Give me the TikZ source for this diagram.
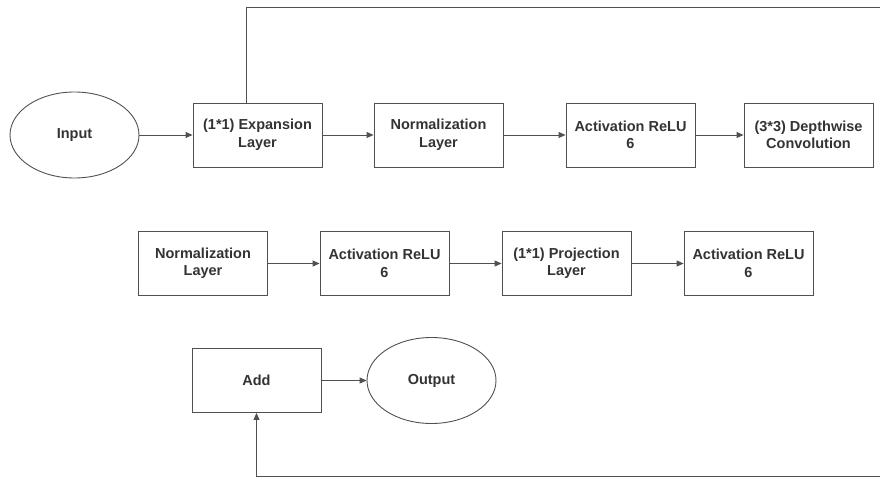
\documentclass[tikz,border=0pt]{standalone}
\usepackage{fontspec}
\setmainfont{Liberation Sans}
\usetikzlibrary{shapes.geometric,arrows.meta}
\definecolor{linegray}{HTML}{505050}
\tikzset{
  x=1pt, y=1pt,
  layer/.style={draw=linegray, line width=0.9pt, rectangle, minimum width=129pt, minimum height=64pt,
    align=center, font=\bfseries\fontsize{14.5}{17.5}\selectfont, text=black!80, inner sep=2pt},
  term/.style={draw=linegray, line width=0.9pt, ellipse, minimum width=129pt, minimum height=86pt,
    align=center, font=\bfseries\fontsize{14.5}{17.5}\selectfont, text=black!80, inner sep=0pt},
  flow/.style={draw=linegray, line width=0.9pt, -{Triangle[length=7pt,width=6pt]}},
  wire/.style={draw=linegray, line width=0.9pt}
}
\begin{document}
\begin{tikzpicture}
\useasboundingbox (0,0) rectangle (880,477);
% first row (y = 477 - 135)
\node[term]  (in)   at (74.5,342) {Input};
\node[layer] (exp)  at (257.5,342) {(1*1) Expansion\\Layer};
\node[layer] (nrm1) at (438.5,342) {Normalization\\Layer};
\node[layer] (act1) at (630.5,342) {Activation ReLU\\6};
\node[layer] (dw)   at (808.5,342) {(3*3) Depthwise\\Convolution};
% second row
\node[layer] (nrm2) at (203,213.5) {Normalization\\Layer};
\node[layer] (act2) at (384.5,213.5) {Activation ReLU\\6};
\node[layer] (proj) at (566.5,213.5) {(1*1) Projection\\Layer};
\node[layer] (act3) at (748.5,213.5) {Activation ReLU\\6};
% third row
\node[layer] (add)  at (256.5,96.5) {Add};
\node[term]  (out)  at (431.5,96.5) {Output};
% arrows between blocks
\draw[flow] (in) -- (exp);
\draw[flow] (exp) -- (nrm1);
\draw[flow] (nrm1) -- (act1);
\draw[flow] (act1) -- (dw);
\draw[flow] (nrm2) -- (act2);
\draw[flow] (act2) -- (proj);
\draw[flow] (proj) -- (act3);
\draw[flow] (add) -- (out);
% skip connection over the top and back along the bottom
\coordinate (skipA) at ([xshift=-11.5pt]exp.north);
\coordinate (topR) at (881,470);
\coordinate (botR) at (881,1);
\draw[wire] (skipA) |- (topR);
\draw[flow] (botR) -| (add.south);
\end{tikzpicture}
\end{document}
